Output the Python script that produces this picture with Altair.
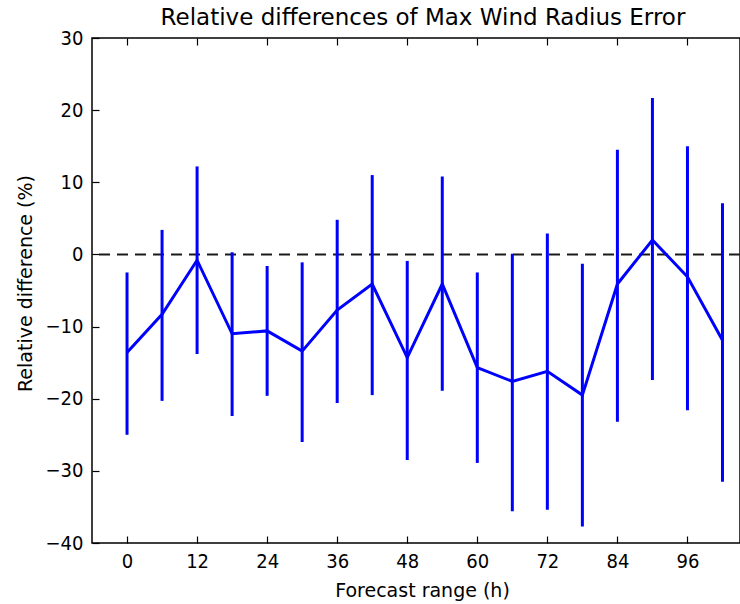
import altair as alt
import pandas as pd

# Forecast range (h)
hours = [0, 6, 12, 18, 24, 30, 36, 42, 48, 54, 60, 66, 72, 78, 84, 90, 96, 102]
# Mean relative difference (%)
mean_diff = [-13.6, -8.3, -0.8, -11.0, -10.6, -13.4, -7.7, -4.1, -14.3, -4.1,
             -15.7, -17.6, -16.2, -19.5, -4.1, 2.0, -3.1, -11.9]
# Error bar lower / upper bounds (%)
lower = [-25.0, -20.3, -13.8, -22.4, -19.6, -26.0, -20.6, -19.5, -28.5, -18.9,
         -28.9, -35.6, -35.4, -37.7, -23.2, -17.4, -21.6, -31.5]
upper = [-2.5, 3.4, 12.2, 0.3, -1.6, -1.1, 4.8, 11.0, -0.9, 10.8,
         -2.5, 0.1, 2.9, -1.3, 14.5, 21.7, 15.0, 7.1]
x_ticks = [0, 12, 24, 36, 48, 60, 72, 84, 96]
y_ticks = [-40, -30, -20, -10, 0, 10, 20, 30]

df = pd.DataFrame({"h": hours, "mean": mean_diff, "lo": lower, "hi": upper})

LABEL_FONT = "DejaVu Sans Condensed, Liberation Sans Narrow, DejaVu Sans"
FONT = "DejaVu Sans"
BLUE = "#0000ff"

xscale = alt.Scale(domain=[-6, 105], nice=False, zero=False)
yscale = alt.Scale(domain=[-40, 30], nice=False, zero=False)

common_axis = dict(grid=False, domain=False, tickColor="black", tickWidth=1.2,
                   tickSize=7, offset=-7, labelColor="black", labelFont=LABEL_FONT,
                   labelFontSize=20, titleFont=FONT, titleColor="black",
                   titleFontWeight="normal", titleFontSize=19)

x_bottom = alt.Axis(values=x_ticks, title="Forecast range (h)", labelPadding=8,
                    titlePadding=10, titleX=330, orient="bottom", **common_axis)
x_top = alt.Axis(values=x_ticks, title=None, labels=False, orient="top", **common_axis)
y_left = alt.Axis(values=y_ticks, title="Relative difference (%)", labelPadding=9,
                  titlePadding=10, titleY=245, orient="left", **common_axis)

base = alt.Chart(df)

bars = base.mark_rule(color=BLUE, strokeWidth=3).encode(
    x=alt.X("h:Q", scale=xscale, axis=x_bottom),
    y=alt.Y("lo:Q", scale=yscale, axis=y_left),
    y2="hi:Q",
)

line = base.mark_line(color=BLUE, strokeWidth=3).encode(
    x=alt.X("h:Q", scale=xscale, axis=x_top),
    y=alt.Y("mean:Q", scale=yscale, axis=None),
)

zero = alt.Chart(pd.DataFrame({"z": [0]})).mark_rule(
    color="#1a1a1a", strokeWidth=2, strokeDash=[11, 7]
).encode(y=alt.Y("z:Q", scale=yscale, axis=None))

chart = (
    alt.layer(zero, bars, line)
    .resolve_axis(x="independent", y="independent")
    .properties(
        width=648,
        height=505,
        background="white",
        autosize=alt.AutoSizeParams(type="none"),
        padding={"left": 92, "top": 38, "right": 0, "bottom": 61},
        title=alt.TitleParams(
            "Relative differences of Max Wind Radius Error",
            font=FONT, fontSize=23, fontWeight="normal", color="black",
            anchor="middle", offset=-2, dx=7,
        ),
    )
    .configure_view(stroke="black", strokeWidth=1.5)
)

chart.save("out.html", embed_options={"renderer": "svg", "actions": False})
